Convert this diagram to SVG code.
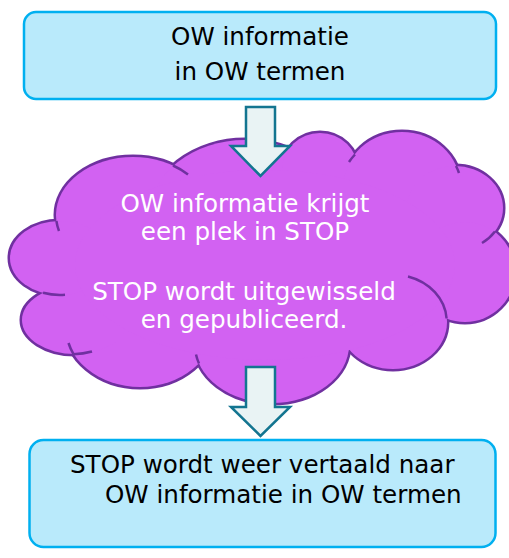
<svg xmlns="http://www.w3.org/2000/svg" width="509" height="558" viewBox="0 0 509 558">
<style>
.box{fill:#b9eafb;stroke:#00b0f0;stroke-width:2.5}
.t{font-family:"DejaVu Sans","Verdana",sans-serif;font-size:24.6px;fill:#000}
.w{fill:#fff;text-anchor:middle}
.c{text-anchor:middle}
.lobeS{fill:#d262f2;stroke:#7030a0;stroke-width:5}
.lobeF{fill:#d262f2;stroke:none}
.hint{fill:none;stroke:#7030a0;stroke-width:2.5}
.arrow{fill:#e9f3f4;stroke:#137590;stroke-width:2.5;stroke-linejoin:miter}
</style>
<defs>
<g id="lobes">
<ellipse cx="133" cy="215" rx="77" ry="58"/>
<ellipse cx="245" cy="215" rx="95" ry="75"/>
<ellipse cx="320" cy="170" rx="38" ry="37"/>
<ellipse cx="402" cy="185" rx="58" ry="53"/>
<ellipse cx="455" cy="208" rx="48" ry="42"/>
<ellipse cx="465" cy="272" rx="50" ry="50"/>
<ellipse cx="393" cy="322" rx="54" ry="47"/>
<ellipse cx="272" cy="345" rx="77" ry="58"/>
<ellipse cx="140" cy="325" rx="75" ry="62"/>
<ellipse cx="75" cy="320" rx="53" ry="34"/>
<ellipse cx="60" cy="258" rx="50" ry="37"/>
<ellipse cx="265" cy="265" rx="190" ry="95"/>
</g>
</defs>
<g id="node-top">
<rect class="box" x="24" y="12" width="472" height="87" rx="12"/>
<text class="t c" x="260" y="45">OW informatie</text>
<text class="t c" x="260" y="80">in OW termen</text>
</g>
<g id="node-cloud">
<use class="lobeS" href="#lobes"/>
<use class="lobeF" href="#lobes"/>
<path class="hint" d="M173,165.5 A77,58 0 0 1 188,174.4"/>
<path class="hint" d="M355,154.5 A58,53 0 0 0 349,162"/>
<path class="hint" d="M456,166 A58,53 0 0 1 459,173"/>
<path class="hint" d="M495,231.5 A48,42 0 0 1 482,243"/>
<path class="hint" d="M446.6,318.5 A54,47 0 0 0 408,276.5"/>
<path class="hint" d="M73.5,354.2 A53,34 0 0 0 92,351.5"/>
<path class="hint" d="M73.5,354.2 A75,62 0 0 1 68.5,343"/>
<path class="hint" d="M43,292.8 A50,37 0 0 0 65,294.8"/>
<path class="hint" d="M56.4,221 A77,58 0 0 0 59,231"/>
<path class="hint" d="M199,363.5 A77,58 0 0 1 196,354.5"/>
<text class="t w" x="245" y="212">OW informatie krijgt</text>
<text class="t w" x="245" y="240">een plek in STOP</text>
<text class="t w" x="244" y="300">STOP wordt uitgewisseld</text>
<text class="t w" x="244" y="328">en gepubliceerd.</text>
</g>
<g id="node-bottom">
<rect class="box" x="29.5" y="440" width="466" height="107" rx="14"/>
<text class="t" x="70" y="473">STOP wordt weer vertaald naar</text>
<text class="t" x="105" y="503">OW informatie in OW termen</text>
</g>
<g id="connectors">
<polygon class="arrow" points="246,107 275,107 275,146 290,146 260.5,176 231,146 246,146"/>
<polygon class="arrow" points="246,367 275,367 275,407 290,407 260.5,436 231,407 246,407"/>
</g>
</svg>
